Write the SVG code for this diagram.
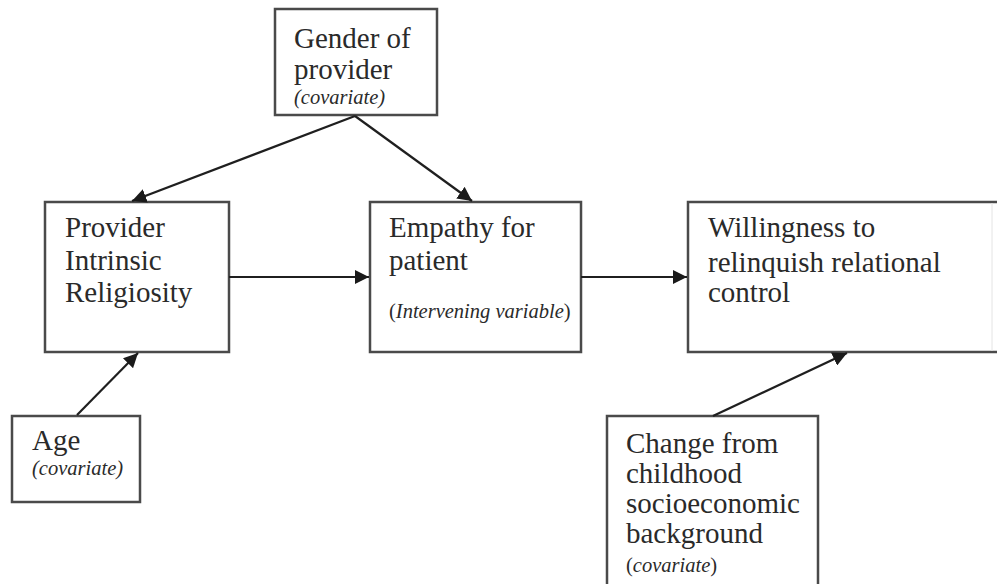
<svg xmlns="http://www.w3.org/2000/svg" width="997" height="584" viewBox="0 0 997 584">
<defs>
<marker id="ah" viewBox="0 0 10 10" refX="10" refY="5" markerWidth="6.5" markerHeight="6.5" markerUnits="strokeWidth" orient="auto">
<path d="M0,0 L10,5 L0,10 z" fill="#1a1a1a"/>
</marker>
<style>
.box{fill:#fff;stroke:#4a4a4a;stroke-width:2.5}
.t{font-family:"Liberation Serif","Times New Roman",serif;font-size:29px;fill:#2a2a2a}
.i{font-family:"Liberation Serif","Times New Roman",serif;font-size:20.5px;font-style:italic;fill:#2a2a2a}
.up{font-style:normal}
.c{stroke:#1f1f1f;stroke-width:2.2;fill:none;marker-end:url(#ah)}
</style>
</defs>
<rect width="997" height="584" fill="#fff"/>
<g id="gender">
<rect class="box" x="275" y="9" width="162" height="106"/>
<text class="t" x="294" y="48">Gender of</text>
<text class="t" x="294" y="79">provider</text>
<text class="i" x="294" y="104">(covariate)</text>
</g>
<g id="provider">
<rect class="box" x="45" y="202" width="184" height="150"/>
<text class="t" x="65" y="237">Provider</text>
<text class="t" x="65" y="270">Intrinsic</text>
<text class="t" x="65" y="302">Religiosity</text>
</g>
<g id="empathy">
<rect class="box" x="370" y="202" width="211" height="150"/>
<text class="t" x="389" y="237">Empathy for</text>
<text class="t" x="389" y="270">patient</text>
<text class="i" x="389" y="318"><tspan class="up">(</tspan>Intervening variable<tspan class="up">)</tspan></text>
</g>
<g id="willingness">
<path d="M1000,202 H688 V352 H1000" fill="#fff" stroke="#4a4a4a" stroke-width="2.5"/>
<line x1="992" y1="203" x2="992" y2="351" stroke="#e4e4e4" stroke-width="1"/>
<text class="t" x="708" y="237">Willingness to</text>
<text class="t" x="708" y="272">relinquish relational</text>
<text class="t" x="708" y="302">control</text>
</g>
<g id="age">
<rect class="box" x="12" y="416" width="128" height="86"/>
<text class="t" x="32" y="450">Age</text>
<text class="i" x="32" y="475">(covariate)</text>
</g>
<g id="change">
<path d="M607,590 V416 H818 V590" fill="#fff" stroke="#4a4a4a" stroke-width="2.5"/>
<text class="t" x="626" y="453">Change from</text>
<text class="t" x="626" y="483">childhood</text>
<text class="t" x="626" y="513">socioeconomic</text>
<text class="t" x="626" y="543">background</text>
<text class="i" x="626" y="572"><tspan class="up">(</tspan>covariate<tspan class="up">)</tspan></text>
</g>
<g id="connectors">
<line class="c" x1="355" y1="116" x2="132" y2="201"/>
<line class="c" x1="355" y1="116" x2="472" y2="201"/>
<line class="c" x1="229" y1="277" x2="369" y2="277"/>
<line class="c" x1="581" y1="277" x2="687" y2="277"/>
<line class="c" x1="77" y1="415" x2="138" y2="353"/>
<line class="c" x1="713" y1="416" x2="847" y2="353"/>
</g>
</svg>
